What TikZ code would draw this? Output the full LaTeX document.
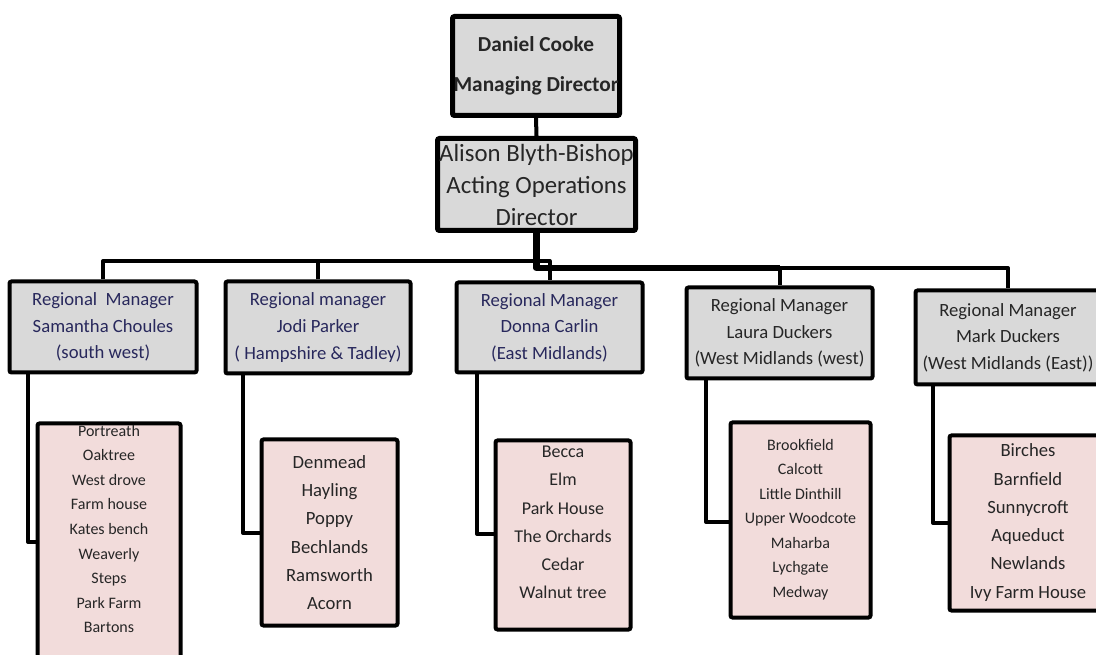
\documentclass[tikz,border=0pt]{standalone}
\usepackage{fontspec}
\setmainfont{Carlito}
\definecolor{boxgray}{RGB}{217,217,217}
\definecolor{boxpink}{RGB}{242,220,219}
\definecolor{navytext}{RGB}{40,40,92}
\definecolor{darktext}{RGB}{38,38,38}

\begin{document}
\begin{tikzpicture}[x=0.75pt,y=-0.75pt,
  topbox/.style={draw=black, fill=boxgray, line width=3.75pt, rounded corners=1.5pt, align=center, inner sep=0pt, text=darktext},
  mgrbox/.style={draw=black, fill=boxgray, line width=3pt, rounded corners=1.5pt, align=center, inner sep=0pt, font=\fontsize{14}{20}\selectfont},
  listbox/.style={draw=black, fill=boxpink, line width=3pt, rounded corners=1.5pt},
  listtext/.style={align=center, inner sep=0pt, text=darktext},
  link/.style={line width=3pt, line join=round}]
  \useasboundingbox (0,0) rectangle (1096,655);

  \node[topbox, minimum width=125.25pt, minimum height=74.25pt, font=\fontsize{16}{30}\selectfont\bfseries] (dc) at (536,66) {Daniel Cooke\\Managing Director};
  \node[topbox, minimum width=148.5pt, minimum height=69pt, font=\fontsize{18.6}{24}\selectfont] (ab) at (536.5,184.5) {Alison Blyth-Bishop\\Acting Operations\\Director};

  \coordinate (busL) at (0,261);
  \coordinate (busR) at (0,268);

  \node[mgrbox, text=navytext, minimum width=140.25pt, minimum height=68.25pt] (sam) at (103,327) {Regional\ \ Manager\\Samantha Choules\\(south west)};
  \node[mgrbox, text=navytext, minimum width=138.75pt, minimum height=69pt] (jodi) at (318,327.5) {Regional manager\\Jodi Parker\\( Hampshire \& Tadley)};
  \node[mgrbox, text=navytext, minimum width=139.5pt, minimum height=67.5pt] (donna) at (549.5,327.5) {Regional Manager\\Donna Carlin\\(East Midlands)};
  \node[mgrbox, text=darktext, minimum width=139.5pt, minimum height=68.25pt] (laura) at (779.5,333) {Regional Manager\\Laura Duckers\\(West Midlands (west)};
  \node[mgrbox, text=darktext, minimum width=138.75pt, minimum height=70.5pt] (mark) at (1008,337.5) {Regional Manager\\Mark Duckers\\(West Midlands (East))};

  \draw[link] (dc.south) -- (ab.north);
  \draw[link] (sam.north) |- (donna.north |- busL) -- (donna.north);
  \draw[link] (jodi.north) -- (jodi.north |- busL);
  \draw[link, line width=5pt] (ab.south) -- (ab.south |- busR) -- (laura.north |- busR);
  \draw[link] (laura.north |- busR) -- (laura.north);
  \draw[link] (laura.north |- busR) -| (mark.north);

  \node[listbox, minimum width=107.25pt, minimum height=207.4pt] (samL) at (109,561.75) {};
  \node[listtext, font=\fontsize{12}{18.4}\selectfont] (samT) at (109,529) {Portreath\\Oaktree\\West drove\\Farm house\\Kates bench\\Weaverly\\Steps\\Park Farm\\Bartons};
  \node[listbox, minimum width=102pt, minimum height=139.5pt] (jodiL) at (329.5,532.5) {};
  \node[listtext, font=\fontsize{14}{21.2}\selectfont] (jodiT) at (329.5,532.5) {Denmead\\Hayling\\Poppy\\Bechlands\\Ramsworth\\Acorn};
  \node[listbox, minimum width=101.25pt, minimum height=141.75pt] (donnaL) at (563,535) {};
  \node[listtext, font=\fontsize{13.5}{21.2}\selectfont] (donnaT) at (563,522.5) {Becca\\Elm\\Park House\\The Orchards\\Cedar\\Walnut tree};
  \node[listbox, minimum width=105pt, minimum height=146.25pt] (lauraL) at (800.5,520) {};
  \node[listtext, font=\fontsize{12}{18.4}\selectfont] (lauraT) at (800.5,519.5) {Brookfield\\Calcott\\Little Dinthill\\Upper Woodcote\\Maharba\\Lychgate\\Medway};
  \node[listbox, minimum width=117.75pt, minimum height=131.25pt] (markL) at (1028,523) {};
  \node[listtext, font=\fontsize{14}{21.2}\selectfont] (markT) at (1028,522.5) {Birches\\Barnfield\\Sunnycroft\\Aqueduct\\Newlands\\Ivy Farm House};

  \coordinate (samE) at (28,542);
  \coordinate (jodiE) at (243,533);
  \coordinate (donnaE) at (477,534);
  \coordinate (lauraE) at (706,522);
  \coordinate (markE) at (933,523);
  \draw[link] (sam.south -| samE) -- (samE) -- (samE -| samL.west);
  \draw[link] (jodi.south -| jodiE) -- (jodiE) -- (jodiE -| jodiL.west);
  \draw[link] (donna.south -| donnaE) -- (donnaE) -- (donnaE -| donnaL.west);
  \draw[link] (laura.south -| lauraE) -- (lauraE) -- (lauraE -| lauraL.west);
  \draw[link] (mark.south -| markE) -- (markE) -- (markE -| markL.west);
\end{tikzpicture}
\end{document}
